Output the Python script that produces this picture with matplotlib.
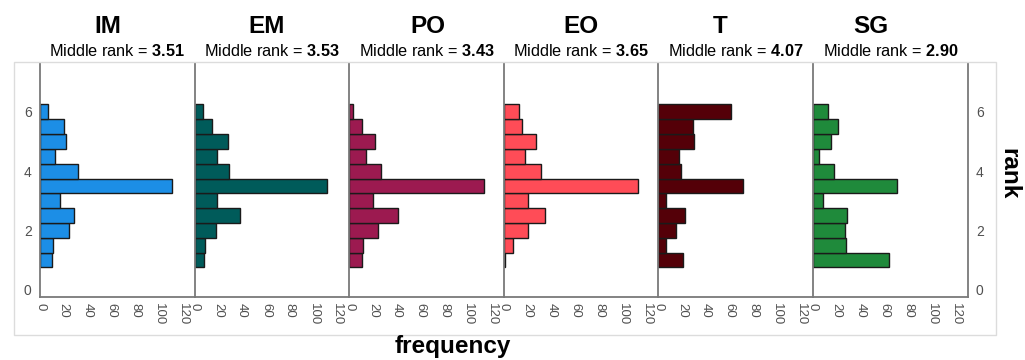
import matplotlib.pyplot as plt
from matplotlib.patches import Rectangle
from matplotlib.transforms import ScaledTranslation

plt.rcParams['font.family'] = ['Liberation Sans', 'DejaVu Sans']
plt.rcParams['mathtext.fontset'] = 'custom'
plt.rcParams['mathtext.rm'] = 'Liberation Sans'
plt.rcParams['mathtext.bf'] = 'Liberation Sans:bold'

# rank bins (bar centres) and frequency per group, lowest rank first
ranks = [1.0, 1.5, 2.0, 2.5, 3.0, 3.5, 4.0, 4.5, 5.0, 5.5, 6.0]
groups = ['IM', 'EM', 'PO', 'EO', 'T', 'SG']
middle_ranks = ['3.51', '3.53', '3.43', '3.65', '4.07', '2.90']
freq_im = [10, 11, 24, 29, 17, 111, 32, 13, 22, 20, 7]
freq_em = [8, 9, 18, 38, 19, 111, 29, 19, 28, 15, 7]
freq_po = [11, 12, 24, 41, 20, 113, 27, 14, 22, 11, 3]
freq_eo = [1, 8, 20, 35, 20, 113, 31, 18, 27, 15, 13]
freq_t = [21, 6, 15, 22, 6, 71, 19, 17, 30, 29, 61]
freq_sg = [64, 28, 27, 29, 8, 71, 18, 5, 15, 21, 13]
freqs = [freq_im, freq_em, freq_po, freq_eo, freq_t, freq_sg]
colors = ['#1c8ee6', '#005b5a', '#9c1a50', '#ff4c57', '#540008', '#1f8a3b']
xticks = [0, 20, 40, 60, 80, 100, 120]
yticks = [0, 2, 4, 6]

W, H = 1025, 360
fig = plt.figure(figsize=(W / 100, H / 100), dpi=100)

# light outer frame
fig.patches.append(Rectangle((14 / W, 1 - 335 / H), (996 - 14) / W, (335 - 62) / H,
                             transform=fig.transFigure, fill=False,
                             edgecolor='#dcdcdc', lw=1))

left, pw = 40 / W, 154.6 / W
bottom, top = 1 - 297 / H, 1 - 63 / H
title_x = [108, 267, 428, 581, 720, 871]
shift = ScaledTranslation(-5 / 100, 0, fig.dpi_scale_trans)

for i, g in enumerate(groups):
    ax = fig.add_axes([left + i * pw, bottom, pw, top - bottom])
    ax.barh(ranks, freqs[i], height=0.5, color=colors[i],
            edgecolor='#1a1a1a', linewidth=1)
    ax.set_xlim(0, 130)
    ax.set_ylim(-0.25, 7.65)
    ax.set_xticks(xticks)
    ax.set_xticklabels([str(t) for t in xticks], rotation=270)
    for lbl in ax.get_xticklabels():
        lbl.set_transform(lbl.get_transform() + shift)
    ax.set_yticks(yticks)
    ax.tick_params(length=0, labelsize=9.5, labelcolor='#505050', pad=4)
    ax.tick_params(axis='y', pad=6, labelsize=10)
    for s in ['top', 'right']:
        ax.spines[s].set_visible(False)
    for s in ['left', 'bottom', 'right']:
        ax.spines[s].set_color('#7a7a7a')
        ax.spines[s].set_linewidth(1.3)
    if i > 0:
        ax.tick_params(axis='y', labelleft=False)
    if i == len(groups) - 1:
        ax.spines['right'].set_visible(True)
        ax.tick_params(axis='y', labelright=True, right=True, length=0)
    ax.set_title(f'Middle rank = $\\mathbf{{{middle_ranks[i]}}}$',
                 fontsize=11.7, pad=5)
    fig.text(title_x[i] / W, 1 - 33 / H, g, ha='center', va='baseline',
             fontsize=17.5, fontweight='bold')

fig.text(453 / W, 1 - 353 / H, 'frequency', ha='center', va='baseline',
         fontsize=17.5, fontweight='bold')
fig.text(1009 / W, 1 - 174 / H, 'rank', ha='center', va='center',
         rotation=270, fontsize=17.5, fontweight='bold')

fig.savefig('out.png', dpi=100)
